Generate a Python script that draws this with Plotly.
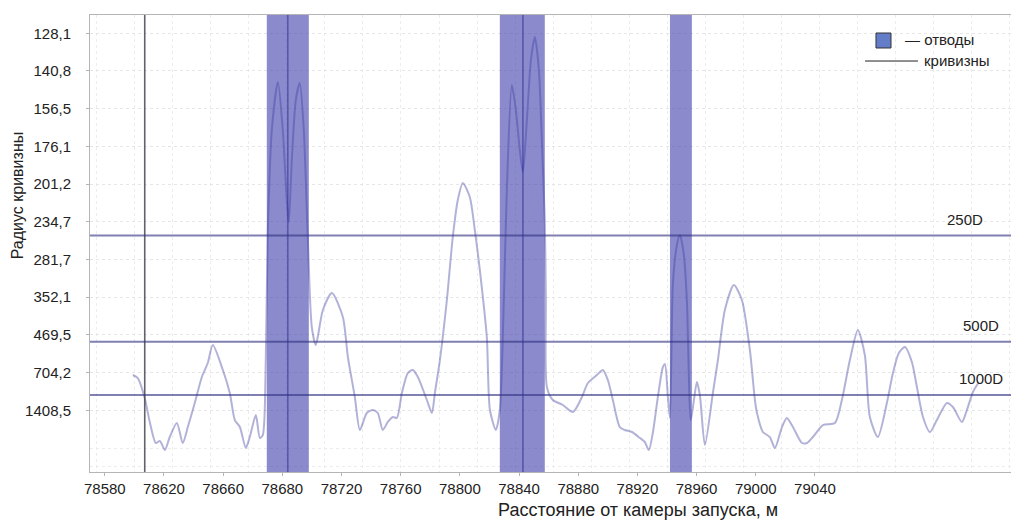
import plotly.graph_objects as go

# ---- data (x in metres along the axis scale, curvature k in 1/km = 1000/R) ----
curve_x = [78598.9, 78602.3, 78607.0, 78610.4, 78614.5, 78617.2, 78620.6, 78623.9, 78628.7, 78632.7,
           78636.1, 78640.8, 78645.6, 78649.6, 78653.0, 78659.8, 78664.5, 78667.9, 78671.3, 78675.3,
           78678.0, 78682.1, 78684.8, 78686.8, 78688.8, 78690.2, 78692.9, 78697.0, 78700.3, 78703.0,
           78704.4, 78706.4, 78709.1, 78711.8, 78714.5, 78717.2, 78719.9, 78722.6, 78727.4, 78733.5,
           78740.9, 78744.3, 78749.0, 78752.4, 78757.1, 78761.2, 78764.5, 78767.9, 78771.3, 78774.7,
           78777.4, 78780.8, 78784.8, 78788.2, 78791.6, 78797.7, 78801.1, 78803.1, 78806.5, 78811.2,
           78815.2, 78818.6, 78822.0, 78826.7, 78830.1, 78833.5, 78838.2, 78840.3, 78844.3, 78847.0,
           78849.7, 78851.8, 78855.1, 78857.8, 78860.5, 78862.6, 78865.3, 78868.0, 78870.7, 78873.4,
           78875.4, 78877.4, 78878.1, 78878.8, 78882.8, 78889.6, 78896.4, 78902.5, 78906.5, 78912.6,
           78916.6, 78920.0, 78923.4, 78928.1, 78931.5, 78936.3, 78941.7, 78945.0, 78947.7, 78950.4,
           78953.8, 78957.2, 78958.6, 78960.6, 78962.0, 78964.0, 78966.7, 78968.7, 78971.4, 78973.4,
           78976.1, 78978.2, 78980.2, 78982.2, 78985.6, 78991.0, 78994.4, 78999.1, 79005.2, 79010.6,
           79016.0, 79019.4, 79020.8, 79024.8, 79029.5, 79032.9, 79037.7, 79041.0, 79045.1, 79051.2,
           79054.6, 79058.6, 79065.4, 79073.5, 79078.2, 79083.6, 79089.0, 79093.7, 79097.1, 79102.5,
           79108.6, 79112.7, 79116.7, 79120.8, 79125.5, 79128.9, 79133.0, 79137.7, 79142.4, 79149.2,
           79153.2, 79159.3, 79162.7, 79166.8, 79170.8]
curve_k = [1.375, 1.318, 0.942, 0.490, 0.094, 0.132, -0.038, 0.207, 0.471, 0.094,
           0.395, 0.847, 1.337, 1.601, 1.940, 1.469, 1.036, 0.527, 0.395, 0.0,
           0.207, 0.621, 0.188, 0.245, 1.657, 4.106, 5.989, 6.893, 5.989, 4.671,
           4.256, 5.424, 6.554, 6.874, 5.989, 3.974, 2.279, 1.940, 2.599, 2.919,
           2.467, 1.714, 0.960, 0.339, 0.659, 0.716, 0.659, 0.339, 0.490, 0.584,
           0.565, 1.036, 1.412, 1.469, 1.337, 0.904, 0.659, 1.036, 1.657, 2.787,
           3.974, 4.671, 4.991, 4.727, 4.106, 3.352, 2.090, 0.716, 0.339, 0.716,
           2.787, 4.915, 6.836, 6.366, 5.612, 5.198, 6.177, 7.307, 7.740, 7.119,
           5.800, 4.294, 2.787, 1.149, 0.904, 0.810, 0.678, 0.960, 1.224, 1.375,
           1.469, 1.281, 0.904, 0.395, 0.339, 0.301, 0.188, 0.113, -0.038, 0.282,
           0.960, 1.525, 1.582, 0.960, 0.565, 3.107, 3.823, 4.011, 3.635, 2.787,
           0.527, 0.904, 1.243, 0.998, 0.056, 1.036, 1.657, 2.599, 3.070, 2.787,
           1.846, 0.904, 0.659, 0.301, 0.207, 0.0, 0.395, 0.565, 0.395, 0.094,
           0.094, 0.207, 0.433, 0.471, 0.904, 1.657, 2.222, 1.751, 0.584, 0.207,
           0.847, 1.412, 1.789, 1.902, 1.620, 1.149, 0.584, 0.301, 0.527, 0.847,
           0.772, 0.490, 0.716, 1.055, 1.243]

band_starts = [78689.5, 78847.0, 78962.0]   # отводы (bends)
band_ends = [78717.9, 78877.4, 78976.8]
band_marks = [78703.7, 78862.6]
start_marker_x = 78607.0

ref_radius = [250, 500, 1000]
ref_labels = ["250D", "500D", "1000D"]

y_tick_labels = ["128,1", "140,8", "156,5", "176,1", "201,2", "234,7",
                 "281,7", "352,1", "469,5", "704,2", "1408,5"]
x_tick_positions = [78580, 78620, 78660, 78700, 78740, 78780, 78820,
                    78860, 78900, 78940, 78980, 79020, 79060]
x_tick_labels = ["78580", "78620", "78660", "78680", "78720", "78760", "78800",
                 "78840", "78880", "78920", "78960", "79000", "79040"]

# ---- figure ----
FONT = "Liberation Sans, Arial, sans-serif"
y_tick_vals = [1000.0 / float(t.replace(",", ".")) for t in y_tick_labels]

fig = go.Figure()

shapes = []
for x0, x1 in zip(band_starts, band_ends):
    shapes.append(dict(type="rect", xref="x", yref="paper", x0=x0, x1=x1, y0=0, y1=1,
                       fillcolor="rgba(60,60,170,0.60)", line=dict(width=0), layer="above"))
for xm in band_marks:
    shapes.append(dict(type="line", xref="x", yref="paper", x0=xm, x1=xm, y0=0, y1=1,
                       line=dict(color="rgba(30,30,140,0.5)", width=1.5), layer="above"))
shapes.append(dict(type="line", xref="x", yref="paper", x0=start_marker_x, x1=start_marker_x,
                   y0=0, y1=1, line=dict(color="rgba(70,70,80,0.85)", width=1.6), layer="above"))
for r in ref_radius:
    kv = 1000.0 / r
    shapes.append(dict(type="line", xref="paper", yref="y", x0=0, x1=1, y0=kv, y1=kv,
                       line=dict(color="rgba(50,50,130,0.62)", width=2), layer="above"))

# custom legend
shapes.append(dict(type="rect", xref="paper", yref="paper", x0=0.8534, x1=0.8697, y0=0.9278, y1=0.9606,
                   fillcolor="rgb(100,125,200)", line=dict(color="#333", width=1)))
shapes.append(dict(type="line", xref="paper", yref="paper", x0=0.8415, x1=0.899, y0=0.8993, y1=0.8993,
                   line=dict(color="#222", width=1)))

fig.add_trace(go.Scatter(x=curve_x, y=curve_k, mode="lines",
                         line=dict(color="rgba(30,30,140,0.34)", width=2, shape="spline", smoothing=0.7),
                         showlegend=False, hoverinfo="skip"))

annotations = []
ref_label_x = [0.972, 0.989, 0.993]
for r, lab, lx in zip(ref_radius, ref_labels, ref_label_x):
    annotations.append(dict(xref="paper", yref="y", x=lx, y=1000.0 / r, text=lab, showarrow=False,
                            xanchor="right", yanchor="bottom", yshift=6,
                            font=dict(family=FONT, size=15, color="#222")))
annotations.append(dict(xref="paper", yref="paper", x=0.8827, y=0.9453, text="— отводы", showarrow=False,
                        xanchor="left", yanchor="middle", font=dict(family=FONT, size=15, color="#222")))
annotations.append(dict(xref="paper", yref="paper", x=0.9034, y=0.9015, text="кривизны", showarrow=False,
                        xanchor="left", yanchor="middle", font=dict(family=FONT, size=15, color="#222")))
annotations.append(dict(xref="paper", yref="paper", x=0.595, y=-0.083, text="Расстояние от камеры запуска, м",
                        showarrow=False, xanchor="center", yanchor="middle",
                        font=dict(family=FONT, size=18, color="#222")))
annotations.append(dict(xref="paper", yref="paper", x=-0.079, y=0.606, text="Радиус кривизны",
                        showarrow=False, xanchor="center", yanchor="middle", textangle=-90,
                        font=dict(family=FONT, size=16, color="#222")))

fig.update_layout(
    width=1011, height=523,
    margin=dict(l=90, r=0, t=15, b=51),
    paper_bgcolor="white", plot_bgcolor="white",
    showlegend=False,
    shapes=shapes, annotations=annotations,
    font=dict(family=FONT, size=15, color="#222"),
)
fig.update_xaxes(
    range=[78570, 79192.5], tickmode="array", tickvals=x_tick_positions, ticktext=x_tick_labels,
    showgrid=False, zeroline=False, showline=True, linecolor="#b5b5b5", linewidth=1, mirror=True,
    ticks="outside", ticklen=3, tickcolor="#b5b5b5",
    tickfont=dict(family=FONT, size=15, color="#222"),
    minor=dict(tick0=78600.3, dtick=25.7, showgrid=True, gridcolor="#ececec", griddash="dot", gridwidth=1),
)
fig.update_yaxes(
    range=[-0.452, 8.155], tickmode="array", tickvals=y_tick_vals, ticktext=y_tick_labels,
    showgrid=True, gridcolor="#e6e6e6", griddash="dot", gridwidth=1, zeroline=False,
    showline=True, linecolor="#b5b5b5", linewidth=1,
    ticks="outside", ticklen=3, tickcolor="#b5b5b5", ticklabelstandoff=12,
    tickfont=dict(family=FONT, size=15, color="#222"),
    minor=dict(tickvals=[0.0, -0.355], showgrid=True, gridcolor="#ececec", griddash="dot"),
)

fig.write_html("out.html")
